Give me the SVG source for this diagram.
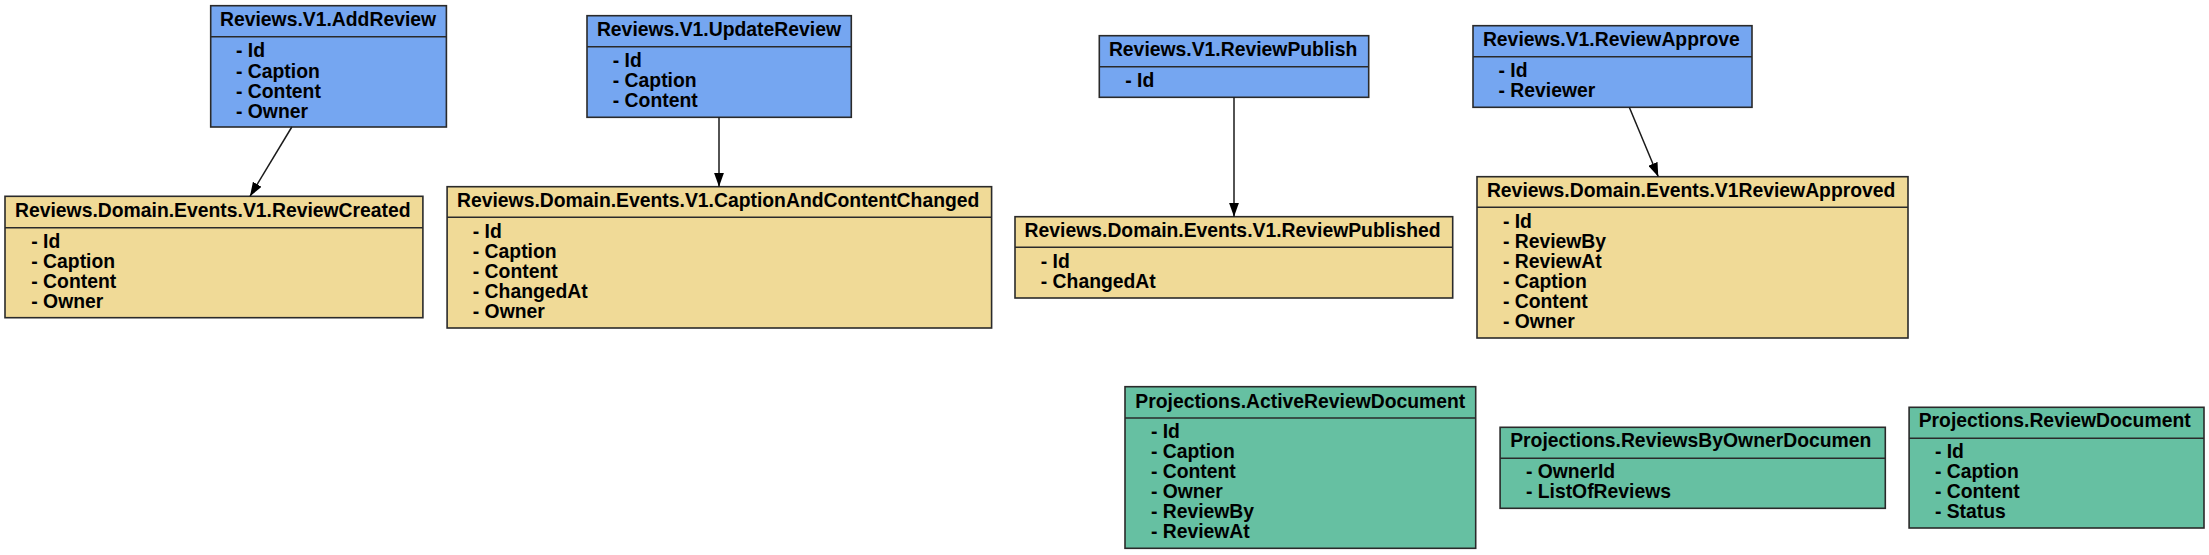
<svg xmlns="http://www.w3.org/2000/svg" width="2209" height="555" viewBox="0 0 2209 555">
<style>
text{font-family:"Liberation Sans",Arial,sans-serif;font-weight:bold;font-size:19.35px;fill:#000}
.box{stroke:#2a2a2a;stroke-width:1.6}
.cmd{fill:#75A6F1}
.evt{fill:#F0DA97}
.prj{fill:#66C0A2}
.div{stroke:#2a2a2a;stroke-width:1.6}
.edge{stroke:#1a1a1a;stroke-width:1.5;fill:none}
</style>
<defs>
<marker id="arr" markerUnits="userSpaceOnUse" markerWidth="14" markerHeight="10" refX="14" refY="5" orient="auto">
<path d="M0,0 L14,5 L0,10 z" fill="#000"/>
</marker>
</defs>
<rect width="2209" height="555" fill="#fff"/>

<g id="AddReview">
<rect class="box cmd" x="210.7" y="5.7" width="235.7" height="121.3"/>
<line class="div" x1="210.7" y1="36.7" x2="446.4" y2="36.7"/>
<text x="220" y="26">Reviews.V1.AddReview</text>
<text x="236" y="57.3">- Id</text>
<text x="236" y="77.5">- Caption</text>
<text x="236" y="97.6">- Content</text>
<text x="236" y="117.7">- Owner</text>
</g>

<g id="UpdateReview">
<rect class="box cmd" x="587" y="15.7" width="264.3" height="101.6"/>
<line class="div" x1="587" y1="46.7" x2="851.3" y2="46.7"/>
<text x="596.9" y="36">Reviews.V1.UpdateReview</text>
<text x="612.8" y="67">- Id</text>
<text x="612.8" y="87">- Caption</text>
<text x="612.8" y="107">- Content</text>
</g>

<g id="ReviewPublish">
<rect class="box cmd" x="1099.3" y="35.7" width="269.4" height="61.6"/>
<line class="div" x1="1099.3" y1="66.7" x2="1368.7" y2="66.7"/>
<text x="1108.9" y="56">Reviews.V1.ReviewPublish</text>
<text x="1125.2" y="86.7">- Id</text>
</g>

<g id="ReviewApprove">
<rect class="box cmd" x="1473" y="25.7" width="279" height="81.6"/>
<line class="div" x1="1473" y1="56.7" x2="1752" y2="56.7"/>
<text x="1482.9" y="45.7">Reviews.V1.ReviewApprove</text>
<text x="1498.5" y="76.7">- Id</text>
<text x="1498.5" y="96.7">- Reviewer</text>
</g>

<g id="ReviewCreated">
<rect class="box evt" x="5" y="196.3" width="417.9" height="121.4"/>
<line class="div" x1="5" y1="227.7" x2="422.9" y2="227.7"/>
<text x="15" y="216.7">Reviews.Domain.Events.V1.ReviewCreated</text>
<text x="31.3" y="248.3">- Id</text>
<text x="31.3" y="268.3">- Caption</text>
<text x="31.3" y="288.3">- Content</text>
<text x="31.3" y="308.3">- Owner</text>
</g>

<g id="CaptionAndContentChanged">
<rect class="box evt" x="447.1" y="186.7" width="544.5" height="141.3"/>
<line class="div" x1="447.1" y1="217.3" x2="991.6" y2="217.3"/>
<text x="457" y="207.3">Reviews.Domain.Events.V1.CaptionAndContentChanged</text>
<text x="472.8" y="238">- Id</text>
<text x="472.8" y="258">- Caption</text>
<text x="472.8" y="278">- Content</text>
<text x="472.8" y="298">- ChangedAt</text>
<text x="472.8" y="318">- Owner</text>
</g>

<g id="ReviewPublished">
<rect class="box evt" x="1015" y="216.7" width="437.7" height="81.3"/>
<line class="div" x1="1015" y1="247.3" x2="1452.7" y2="247.3"/>
<text x="1024.6" y="236.7">Reviews.Domain.Events.V1.ReviewPublished</text>
<text x="1040.8" y="267.7">- Id</text>
<text x="1040.8" y="287.7">- ChangedAt</text>
</g>

<g id="V1ReviewApproved">
<rect class="box evt" x="1477" y="176.7" width="431" height="161.3"/>
<line class="div" x1="1477" y1="207.3" x2="1908" y2="207.3"/>
<text x="1486.9" y="196.7">Reviews.Domain.Events.V1ReviewApproved</text>
<text x="1502.9" y="227.7">- Id</text>
<text x="1502.9" y="247.7">- ReviewBy</text>
<text x="1502.9" y="267.7">- ReviewAt</text>
<text x="1502.9" y="287.7">- Caption</text>
<text x="1502.9" y="307.7">- Content</text>
<text x="1502.9" y="327.7">- Owner</text>
</g>

<g id="ActiveReviewDocument">
<rect class="box prj" x="1125" y="386.7" width="350.7" height="161.6"/>
<line class="div" x1="1125" y1="418" x2="1475.7" y2="418"/>
<text x="1135.3" y="407.7">Projections.ActiveReviewDocument</text>
<text x="1150.9" y="437.7">- Id</text>
<text x="1150.9" y="457.7">- Caption</text>
<text x="1150.9" y="477.7">- Content</text>
<text x="1150.9" y="497.7">- Owner</text>
<text x="1150.9" y="517.7">- ReviewBy</text>
<text x="1150.9" y="537.7">- ReviewAt</text>
</g>

<g id="ReviewsByOwnerDocumen">
<rect class="box prj" x="1500.1" y="427.3" width="385.2" height="81"/>
<line class="div" x1="1500.1" y1="458.3" x2="1885.3" y2="458.3"/>
<text x="1510.2" y="447.3">Projections.ReviewsByOwnerDocumen</text>
<text x="1525.9" y="477.7">- OwnerId</text>
<text x="1525.9" y="497.5">- ListOfReviews</text>
</g>

<g id="ReviewDocument">
<rect class="box prj" x="1909.1" y="407.3" width="294.9" height="120.7"/>
<line class="div" x1="1909.1" y1="438.3" x2="2204" y2="438.3"/>
<text x="1918.7" y="427.3">Projections.ReviewDocument</text>
<text x="1934.9" y="457.7">- Id</text>
<text x="1934.9" y="477.7">- Caption</text>
<text x="1934.9" y="497.7">- Content</text>
<text x="1934.9" y="517.7">- Status</text>
</g>

<g id="connectors">
<line class="edge" x1="291.8" y1="127" x2="250" y2="196.3" marker-end="url(#arr)"/>
<line class="edge" x1="719" y1="117.3" x2="719" y2="186.7" marker-end="url(#arr)"/>
<line class="edge" x1="1234" y1="97.3" x2="1234" y2="216.7" marker-end="url(#arr)"/>
<line class="edge" x1="1629.3" y1="107.3" x2="1658.3" y2="176.7" marker-end="url(#arr)"/>
</g>
</svg>
